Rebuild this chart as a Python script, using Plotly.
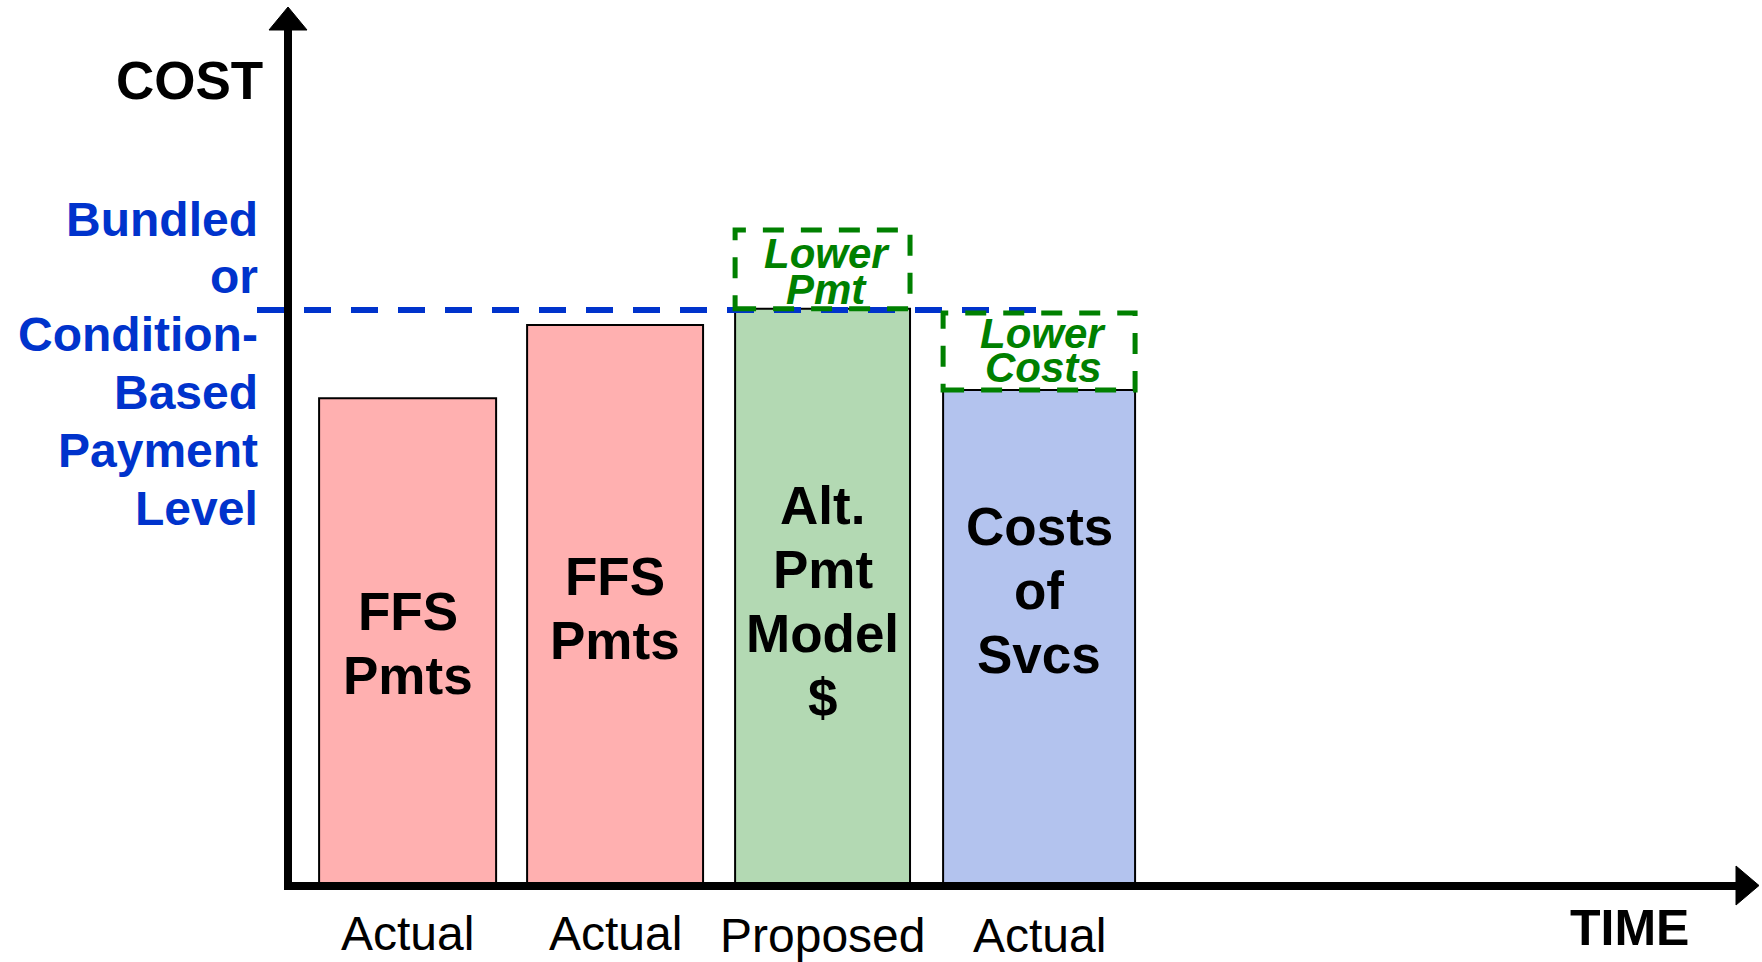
import plotly.graph_objects as go

# ---------------- data ----------------
periods = [1, 2, 3, 4]
period_labels = ["Actual", "Actual", "Proposed", "Actual"]
cost_values = [84.7, 97.4, 100.2, 86.1]
bar_texts = [["FFS", "Pmts"], ["FFS", "Pmts"], ["Alt.", "Pmt", "Model", "$"], ["Costs", "of", "Svcs"]]
payment_level = 100.0
lower_pmt_top = 113.9
lower_costs_top = 99.5
payment_label = ["Bundled", "or", "Condition-", "Based", "Payment", "Level"]

# ---------------- styling / geometry ----------------
W, H = 1762, 962
X_UNIT, X_ORIGIN = 208.0, 199.5      # px per period, px of period 0
Y_UNIT, Y_ORIGIN = 5.76, 886.0        # px per cost unit, px of cost 0
x_range = [-X_ORIGIN / X_UNIT, (W - X_ORIGIN) / X_UNIT]
y_range = [-(H - Y_ORIGIN) / Y_UNIT, Y_ORIGIN / Y_UNIT]

def dx(p):
    return (p - X_ORIGIN) / X_UNIT

def px(p):
    return p / W

def py(p):
    return 1 - p / H

bar_colors = ["#FFB0B0", "#FFB0B0", "#B3D9B3", "#B3C3EE"]
bar_widths = [0.851, 0.846, 0.841, 0.923]
bar_offset = -0.425
BLUE = "#0033CC"
GREEN = "#008000"
FONT = "Liberation Sans, Arial, sans-serif"

fig = go.Figure()
fig.add_trace(go.Bar(
    x=periods, y=cost_values, width=bar_widths, offset=bar_offset,
    marker=dict(color=bar_colors, line=dict(color="black", width=2)),
    hoverinfo="skip", showlegend=False,
))

shapes = []
annotations = []

# payment level dashed line
shapes.append(dict(type="line", xref="x", yref="y", x0=dx(257), x1=periods[3] + bar_offset + bar_widths[3] / 2,
                   y0=payment_level, y1=payment_level,
                   line=dict(color=BLUE, width=6, dash="27px,20px")))

# green dashed boxes
b = 2
shapes.append(dict(type="rect", xref="x", yref="y",
                   x0=periods[b] + bar_offset, x1=periods[b] + bar_offset + bar_widths[b],
                   y0=cost_values[b], y1=lower_pmt_top,
                   line=dict(color=GREEN, width=5, dash="21px,17px")))
b = 3
shapes.append(dict(type="rect", xref="x", yref="y",
                   x0=periods[b] + bar_offset, x1=periods[b] + bar_offset + bar_widths[b],
                   y0=cost_values[b], y1=lower_costs_top,
                   line=dict(color=GREEN, width=5, dash="21px,17px")))

# axes with arrows
shapes.append(dict(type="line", xref="paper", yref="paper", x0=px(288), x1=px(288), y0=py(890), y1=py(28),
                   line=dict(color="black", width=8)))
shapes.append(dict(type="path", xref="paper", yref="paper",
                   path=f"M {px(269)},{py(30)} L {px(307)},{py(30)} L {px(288)},{py(7)} Z",
                   fillcolor="black", line=dict(color="black", width=1)))
shapes.append(dict(type="line", xref="paper", yref="paper", x0=px(284), x1=px(1738), y0=py(886), y1=py(886),
                   line=dict(color="black", width=8)))
shapes.append(dict(type="path", xref="paper", yref="paper",
                   path=f"M {px(1736)},{py(866)} L {px(1736)},{py(905)} L {px(1759)},{py(885.5)} Z",
                   fillcolor="black", line=dict(color="black", width=1)))

# bar texts
text_centers = [643, 608, 601, 590]
for i, lines in enumerate(bar_texts):
    n = len(lines)
    for j, t in enumerate(lines):
        ypix = text_centers[i] + (j - (n - 1) / 2) * 64
        annotations.append(dict(x=periods[i] + bar_offset + bar_widths[i] / 2, xref="x",
                                y=py(ypix), yref="paper", text=f"<b>{t}</b>", showarrow=False,
                                xanchor="center", yanchor="middle",
                                font=dict(family=FONT, size=53, color="black")))

# green box labels
for cx, ys, words in [(periods[2] + bar_offset + bar_widths[2] / 2, [253, 289], ["Lower", "Pmt"]),
                      (periods[3] + bar_offset + bar_widths[3] / 2, [333, 367], ["Lower", "Costs"])]:
    for yy, w in zip(ys, words):
        annotations.append(dict(x=cx, xref="x", xshift=4, y=py(yy), yref="paper", text=f"<b><i>{w}</i></b>",
                                showarrow=False, xanchor="center", yanchor="middle",
                                font=dict(family=FONT, size=42, color=GREEN)))

# category labels
for i, lab in enumerate(period_labels):
    annotations.append(dict(x=periods[i] + bar_offset + bar_widths[i] / 2, xref="x",
                            y=py(933 + (2 if i >= 2 else 0)), yref="paper", text=lab,
                            showarrow=False, xanchor="center", yanchor="middle",
                            font=dict(family=FONT, size=48, color="black")))

# payment level label
for k, t in enumerate(payment_label):
    annotations.append(dict(x=px(260), xref="paper", y=py(219 + k * 57.8), yref="paper",
                            text=f"<b>{t}</b>", showarrow=False, xanchor="right", yanchor="middle",
                            font=dict(family=FONT, size=48, color=BLUE)))

# axis titles
annotations.append(dict(x=px(265), xref="paper", y=py(81), yref="paper", text="<b>COST</b>",
                        showarrow=False, xanchor="right", yanchor="middle",
                        font=dict(family=FONT, size=53, color="black")))
annotations.append(dict(x=px(1629), xref="paper", y=py(928), yref="paper", text="<b>TIME</b>",
                        showarrow=False, xanchor="center", yanchor="middle",
                        font=dict(family=FONT, size=50, color="black")))

fig.update_layout(
    width=W, height=H,
    margin=dict(l=0, r=0, t=0, b=0),
    paper_bgcolor="white", plot_bgcolor="white",
    xaxis=dict(range=x_range, visible=False, fixedrange=True),
    yaxis=dict(range=y_range, visible=False, fixedrange=True),
    shapes=shapes, annotations=annotations,
    showlegend=False,
)

fig.write_html("out.html", config={"displayModeBar": False},
               post_script="document.body.style.margin='0';document.body.style.overflow='hidden';")
